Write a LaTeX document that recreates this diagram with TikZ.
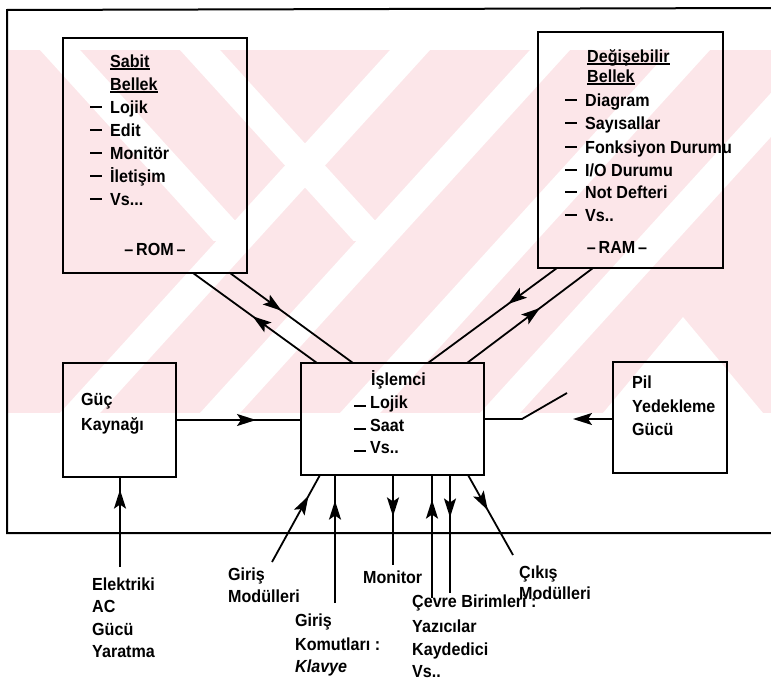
\documentclass[tikz,border=0pt]{standalone}
\usepackage{fontspec}
\setmainfont{Liberation Sans}[FakeStretch=0.92]
\usetikzlibrary{calc,arrows.meta,decorations.markings}
\definecolor{wm}{RGB}{252,230,233}
\newlength\ulw
\newcommand\ulx[1]{\settowidth\ulw{#1}\rlap{\rule[-2.5pt]{\ulw}{1.5pt}}#1}
\newcommand\dsh{\makebox[20pt][l]{\rule[5pt]{12pt}{1.8pt}}}
\newcommand\cdsh{\makebox[16pt][l]{\rule[1.5pt]{12pt}{1.8pt}}}
\begin{document}
\begin{tikzpicture}[x=1pt,y=-1pt,
  box/.style={draw,line width=2.6pt,inner sep=0pt,outer sep=0pt},
  txt/.style={anchor=base west,inner sep=0pt,font=\fontsize{17.5}{20}\selectfont\bfseries},
  ctxt/.style={anchor=base,inner sep=0pt,font=\fontsize{17.5}{20}\selectfont\bfseries},
  conn/.style={line width=1.8pt},
  frame/.style={line width=2pt},
  tip/.style={-{Stealth[length=19pt,width=12pt,inset=4pt]}},
  midarrow/.style={postaction={decorate},decoration={markings,mark=at position #1 with {\arrow{Stealth[length=19pt,width=12pt,inset=4pt]}}}}]
\useasboundingbox (0,0) rectangle (771,688);
% watermark
\begin{scope}
\clip (7,50) rectangle (771,413);
\fill[wm] (7,50) rectangle (771,413);
\foreach \x in {60,200,340,480}{
  \fill[white] (\x,413) -- ++(40,0) -- ++(330,-363) -- ++(-40,0) -- cycle;}
\begin{scope}
\clip (7,50) rectangle (390,240);
\foreach \x in {40,180}{
  \fill[white] (\x,50) -- ++(40,0) -- ++(330,363) -- ++(-40,0) -- cycle;}
\end{scope}
\fill[white] (683,317) -- (763,413) -- (603,413) -- cycle;
\end{scope}
% frame
\coordinate (ftl) at (7,10);
\coordinate (ftr) at (771,8);
\coordinate (fbl) at (7,533);
\coordinate (fbr) at (771,533);
\draw[frame] (ftr) -- (ftl) -- (fbl) -- (fbr);
% boxes
\node[box,minimum width=184pt,minimum height=235pt] (rom) at (155,155.5) {};
\node[box,minimum width=185pt,minimum height=236pt] (ram) at (630.5,150) {};
\node[box,minimum width=183pt,minimum height=112pt] (cpu) at (392.5,419) {};
\node[box,minimum width=113pt,minimum height=114pt] (psu) at (119.5,420) {};
\node[box,minimum width=114pt,minimum height=111pt] (pil) at (670,417.5) {};
% ROM text
\node[txt] (rom1) at (110,67) {\ulx{Sabit}};
\node[txt] (rom2) at (110,90) {\ulx{Bellek}};
\node[txt] (rom3) at (90,113) {\dsh Lojik};
\node[txt] (rom4) at (90,136) {\dsh Edit};
\node[txt] (rom5) at (90,159) {\dsh Monitör};
\node[txt] (rom6) at (90,182) {\dsh İletişim};
\node[txt] (rom7) at (90,205) {\dsh Vs...};
\node[ctxt] (rom8) at (155,255) {\textendash\,ROM\,\textendash};
% RAM text
\node[txt] (ram1) at (587,62) {\ulx{Değişebilir}};
\node[txt] (ram2) at (587,82) {\ulx{Bellek}};
\node[txt] (ram3) at (565,106) {\dsh Diagram};
\node[txt] (ram4) at (565,129) {\dsh Sayısallar};
\node[txt] (ram5) at (565,153) {\dsh Fonksiyon Durumu};
\node[txt] (ram6) at (565,176) {\dsh I/O Durumu};
\node[txt] (ram7) at (565,198) {\dsh Not Defteri};
\node[txt] (ram8) at (565,221) {\dsh Vs..};
\node[ctxt] (ram9) at (617,253) {\textendash\,RAM\,\textendash};
% CPU text
\node[txt] (cpu1) at (371,385) {İşlemci};
\node[txt] (cpu2) at (354,408) {\cdsh Lojik};
\node[txt] (cpu3) at (354,431) {\cdsh Saat};
\node[txt] (cpu4) at (354,453) {\cdsh Vs..};
% PSU / Pil text
\node[txt] (psu1) at (81,405) {Güç};
\node[txt] (psu2) at (81,430) {Kaynağı};
\node[txt] (pil1) at (632,388) {Pil};
\node[txt] (pil2) at (632,412) {Yedekleme};
\node[txt] (pil3) at (632,435) {Gücü};
% bottom labels
\node[txt] (el1) at (92,590) {Elektriki};
\node[txt] (el2) at (92,612) {AC};
\node[txt] (el3) at (92,635) {Gücü};
\node[txt] (el4) at (92,657) {Yaratma};
\node[txt] (gm1) at (228,580) {Giriş};
\node[txt] (gm2) at (228,602) {Modülleri};
\node[txt] (gk1) at (295,626) {Giriş};
\node[txt] (gk2) at (295,650) {Komutları :};
\node[txt] (gk3) at (295,672) {\itshape Klavye};
\node[txt] (mon) at (363,583) {Monitor};
\node[txt] (cb1) at (412,607) {Çevre Birimleri :};
\node[txt] (cb2) at (412,632) {Yazıcılar};
\node[txt] (cb3) at (412,655) {Kaydedici};
\node[txt] (cb4) at (412,677) {Vs..};
\node[txt] (cm1) at (519,578) {Çıkış};
\node[txt] (cm2) at (519,599) {Modülleri};
% memory connectors
\draw[conn,midarrow=0.42] ($(rom.south west)+(167,0)$) -- ($(cpu.north west)+(52,0)$);
\draw[conn,midarrow=0.52] ($(cpu.north west)+(16,0)$) -- ($(rom.south west)+(130,0)$);
\draw[conn,midarrow=0.38] ($(ram.south west)+(19,0)$) -- ($(cpu.north west)+(127,0)$);
\draw[conn,midarrow=0.58] ($(cpu.north west)+(166,0)$) -- ($(ram.south west)+(55,0)$);
% power
\draw[conn,midarrow=0.64] (psu.east) -- (psu.east -| cpu.west);
\coordinate (sw1) at (522,419);
\coordinate (sw2) at (567,393);
\coordinate (pilin) at (573,419);
\draw[conn] (cpu.east |- sw1) -- (sw1) -- (sw2);
\draw[conn,tip] (pil.west |- pilin) -- (pilin);
% bottom connectors
\coordinate (acin) at (120,567);
\coordinate (gmin) at (272,562);
\coordinate (gkin) at (335,603);
\coordinate (monout) at (393,565);
\coordinate (cbin) at (432,598);
\coordinate (cbout) at (450,593);
\coordinate (cmout) at (513,555);
\draw[conn,midarrow=0.86] (acin) -- (acin |- psu.south);
\draw[conn,midarrow=0.76] (gmin) -- (320,475);
\draw[conn,midarrow=0.80] (gkin) -- (gkin |- cpu.south);
\draw[conn,midarrow=0.46] (monout |- cpu.south) -- (monout);
\draw[conn,midarrow=0.80] (cbin) -- (cbin |- cpu.south);
\draw[conn,midarrow=0.36] (cbout |- cpu.south) -- (cbout);
\draw[conn,midarrow=0.44] (468,475) -- (cmout);
\end{tikzpicture}
\end{document}
